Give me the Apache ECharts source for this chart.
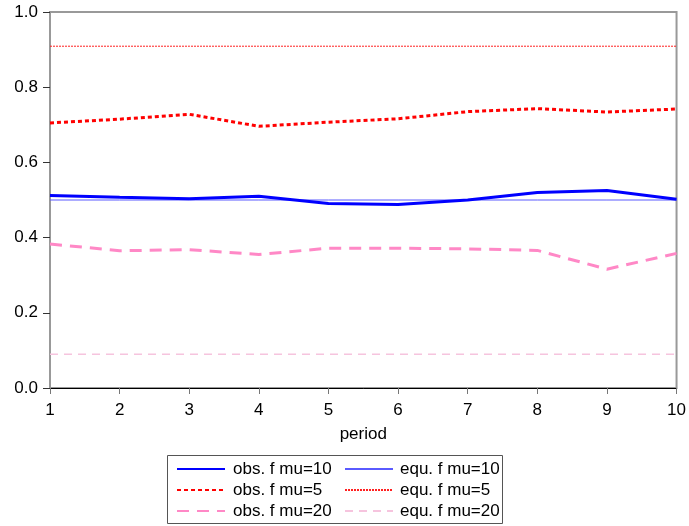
<!DOCTYPE html>
<html><head><meta charset="utf-8">
<script src="https://cdn.jsdelivr.net/npm/echarts@6/dist/echarts.min.js"></script>
<style>html,body{margin:0;padding:0;background:#fff}#c{width:689px;height:526px}</style>
</head><body><div id="c"></div>
<script>
var periods = ['1','2','3','4','5','6','7','8','9','10'];
var obsMu10 = [0.512, 0.507, 0.503, 0.510, 0.491, 0.488, 0.500, 0.520, 0.525, 0.502];
var obsMu5  = [0.705, 0.715, 0.728, 0.696, 0.707, 0.716, 0.735, 0.743, 0.734, 0.742];
var obsMu20 = [0.383, 0.365, 0.368, 0.355, 0.372, 0.372, 0.370, 0.366, 0.316, 0.358];
var equMu10 = [0.5, 0.5, 0.5, 0.5, 0.5, 0.5, 0.5, 0.5, 0.5, 0.5];
var equMu5  = [0.909, 0.909, 0.909, 0.909, 0.909, 0.909, 0.909, 0.909, 0.909, 0.909];
var equMu20 = [0.09, 0.09, 0.09, 0.09, 0.09, 0.09, 0.09, 0.09, 0.09, 0.09];
var yTicks = [0, 0.2, 0.4, 0.6, 0.8, 1.0];

var FONT = 'Liberation Sans, Arial, sans-serif';
var chart = echarts.init(document.getElementById('c'));
function ser(name, data, color, width, type) {
  return {name: name, type: 'line', data: data, symbol: 'none', animation: false,
    lineStyle: {color: color, width: width, type: type}, itemStyle: {color: color}};
}
function leg(name, left, top, pad) {
  return {data: [name], left: left, top: top, itemWidth: 48, itemHeight: 12, itemGap: 0,
    padding: 0, selectedMode: false, itemStyle: {opacity: 0},
    textStyle: {fontFamily: FONT, fontSize: 17, color: '#000', padding: [0, 0, 0, pad]}};
}
chart.setOption({
  animation: false,
  grid: {left: 50, right: 12, top: 12, bottom: 138, show: true, borderColor: '#999', borderWidth: 2},
  xAxis: {type: 'category', data: periods, boundaryGap: false, name: 'period',
    nameLocation: 'middle', nameGap: 38,
    nameTextStyle: {fontFamily: FONT, fontSize: 17, color: '#000'},
    axisLine: {lineStyle: {color: '#000', width: 1}},
    axisTick: {show: true, length: 6, lineStyle: {color: '#777'}, alignWithLabel: true},
    axisLabel: {fontFamily: FONT, fontSize: 17, color: '#000', margin: 14},
    splitLine: {show: false}},
  yAxis: {type: 'value', min: 0, max: 1, interval: 0.2,
    axisLine: {show: true, lineStyle: {color: '#999', width: 2}},
    axisTick: {show: true, length: 7, lineStyle: {color: '#333'}},
    axisLabel: {fontFamily: FONT, fontSize: 17, color: '#000', margin: 12,
      formatter: function (v) { return v.toFixed(1); }},
    splitLine: {show: false}},
  legend: [
    leg('obs. f mu=10', 176, 460.5, 3), leg('obs. f mu=5', 176, 481.5, 3), leg('obs. f mu=20', 176, 502.5, 3),
    leg('equ. f mu=10', 344, 460.5, 2), leg('equ. f mu=5', 344, 481.5, 2), leg('equ. f mu=20', 344, 502.5, 2)
  ],
  graphic: [{type: 'rect', shape: {x: 167.5, y: 455.5, width: 335, height: 68},
    style: {fill: 'none', stroke: '#555', lineWidth: 1}}],
  series: [
    ser('equ. f mu=10', equMu10, '#5a5aff', 1, 'solid'),
    ser('equ. f mu=5', equMu5, '#ff2020', 1, [2, 1]),
    ser('equ. f mu=20', equMu20, '#f6c4de', 1.5, [8, 6]),
    ser('obs. f mu=10', obsMu10, '#0000ff', 3, 'solid'),
    ser('obs. f mu=5', obsMu5, '#ff0000', 3, [4, 3]),
    ser('obs. f mu=20', obsMu20, '#ff88c6', 3, [12, 8])
  ]
});
</script></body></html>
